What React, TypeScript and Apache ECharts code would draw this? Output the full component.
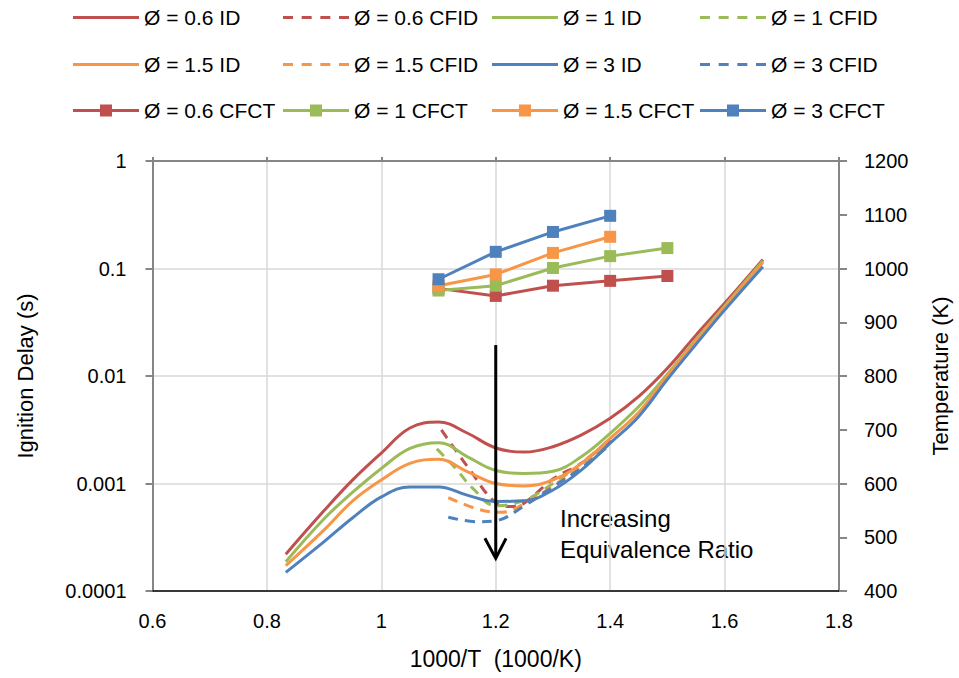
import React, { useEffect, useRef } from "react";
import * as echarts from "echarts";

const FONT = "'Liberation Sans', Arial, sans-serif";

const RED = "#C0504D";
const GREEN = "#9BBB59";
const ORANGE = "#F79646";
const BLUE = "#4F81BD";

// x = 1000/T
const idX = [0.833, 0.9, 0.95, 1.0, 1.05, 1.1, 1.15, 1.2, 1.25, 1.3, 1.35, 1.4, 1.45, 1.5, 1.55, 1.6, 1.667];
const idPhi06 = [2.2e-4, 5.6e-4, 1.08e-3, 1.92e-3, 3.28e-3, 3.73e-3, 2.95e-3, 2.14e-3, 1.96e-3, 2.2e-3, 2.83e-3, 4.04e-3, 6.45e-3, 1.18e-2, 2.4e-2, 4.74e-2, 0.121];
const idPhi1 = [1.87e-4, 4.7e-4, 8.3e-4, 1.38e-3, 2.12e-3, 2.4e-3, 1.78e-3, 1.32e-3, 1.24e-3, 1.3e-3, 1.78e-3, 2.93e-3, 5.2e-3, 1.04e-2, 2.19e-2, 4.48e-2, 0.118];
const idPhi15 = [1.72e-4, 3.7e-4, 6.9e-4, 1.08e-3, 1.54e-3, 1.68e-3, 1.29e-3, 1.0e-3, 9.5e-4, 1.08e-3, 1.54e-3, 2.63e-3, 4.6e-3, 1.0e-2, 2.12e-2, 4.35e-2, 0.114];
const idPhi3 = [1.49e-4, 2.88e-4, 4.8e-4, 7.5e-4, 9.3e-4, 9.3e-4, 7.8e-4, 6.8e-4, 6.9e-4, 8.7e-4, 1.34e-3, 2.37e-3, 4.2e-3, 9.3e-3, 1.97e-2, 4.1e-2, 0.104];

const cfidPhi06X = [1.105, 1.15, 1.2, 1.225, 1.25, 1.3, 1.35, 1.4];
const cfidPhi06 = [3.15e-3, 1.45e-3, 6.6e-4, 6.1e-4, 6.6e-4, 1.1e-3, 1.55e-3, 2.55e-3];
const cfidPhi1X = [1.097, 1.13, 1.16, 1.2, 1.25, 1.3, 1.35, 1.4];
const cfidPhi1 = [2.1e-3, 1.38e-3, 9.0e-4, 6.2e-4, 7.0e-4, 1.0e-3, 1.55e-3, 2.6e-3];
const cfidPhi15X = [1.117, 1.17, 1.21, 1.25, 1.3, 1.35, 1.4];
const cfidPhi15 = [7.4e-4, 5.75e-4, 5.4e-4, 6.5e-4, 9.5e-4, 1.45e-3, 2.5e-3];
const cfidPhi3X = [1.117, 1.17, 1.2, 1.25, 1.3, 1.35, 1.4];
const cfidPhi3 = [4.85e-4, 4.4e-4, 4.5e-4, 6.2e-4, 9.3e-4, 1.4e-3, 2.3e-3];

// cool flame temperature (K), right axis
const cfctX = [1.1, 1.2, 1.3, 1.4, 1.5];
const cfctPhi06 = [963, 949, 968, 977, 986];
const cfctPhi1 = [959, 968, 1001, 1023, 1038];
const cfctPhi15 = [968, 989, 1029, 1059];
const cfctPhi3 = [980, 1031, 1068, 1098];

const leftTickLabels = ["0.0001", "0.001", "0.01", "0.1", "1"];

const arrowShaft = [[1.2, 0.0194], [1.2, 2.03e-4]];
const arrowHead = [[1.181, 3.09e-4], [1.2, 2.01e-4], [1.218, 3.09e-4]];

const legendNames = [
  ["Ø = 0.6 ID", "Ø = 0.6 CFID", "Ø = 1 ID", "Ø = 1 CFID"],
  ["Ø = 1.5 ID", "Ø = 1.5 CFID", "Ø = 3 ID", "Ø = 3 CFID"],
  ["Ø = 0.6 CFCT", "Ø = 1 CFCT", "Ø = 1.5 CFCT", "Ø = 3 CFCT"],
];

const SOLID_ICON = "path://M0,0H66V3H0Z";
const DASH_ICON = "path://M0,0H10V3H0Z M18.67,0H28.67V3H18.67Z M37.33,0H47.33V3H37.33Z M56,0H66V3H56Z";
const MARKER_ICON = "path://M0,4.5H27V0H39V4.5H66V7.5H39V12H27V7.5H0Z";

const zip = (xs: number[], ys: number[]) => ys.map((y, i) => [xs[i], y]);

export default function App() {
  const ref = useRef<HTMLDivElement>(null);
  useEffect(() => {
    if (!ref.current) return;
    const chart = echarts.init(ref.current, undefined, { renderer: "svg" });

    const idLine = (name: string, color: string, xs: number[], ys: number[]) => ({
      name,
      type: "line",
      data: zip(xs, ys),
      smooth: 0.4,
      symbol: "none",
      lineStyle: { width: 3, color },
      itemStyle: { color },
      xAxisIndex: 0,
      yAxisIndex: 0,
    });
    const cfidLine = (name: string, color: string, xs: number[], ys: number[]) => ({
      name,
      type: "line",
      data: zip(xs, ys),
      smooth: 0.4,
      symbol: "none",
      lineStyle: { width: 3, color, type: [10, 7] },
      itemStyle: { color },
      xAxisIndex: 0,
      yAxisIndex: 0,
    });
    const cfctLine = (name: string, color: string, ys: number[]) => ({
      name,
      type: "line",
      data: zip(cfctX, ys),
      symbol: "rect",
      symbolSize: 12,
      showAllSymbol: true,
      lineStyle: { width: 3, color },
      itemStyle: { color },
      xAxisIndex: 0,
      yAxisIndex: 1,
      z: 5,
    });

    const colLefts = [73, 283, 492, 700];
    const rowCenters = [19, 66, 112];
    const legends: any[] = [];
    legendNames.forEach((row, r) =>
      row.forEach((name, c) => {
        const icon = r === 2 ? MARKER_ICON : c % 2 === 0 ? SOLID_ICON : DASH_ICON;
        legends.push({
          data: [{ name, icon }],
          left: colLefts[c],
          top: rowCenters[r] - 12,
          padding: 0,
          itemWidth: 66,
          itemHeight: r === 2 ? 12 : 3,
          itemGap: 0,
          itemStyle: { borderWidth: 0 },
          lineStyle: { width: 0 },
          textStyle: { fontSize: 21, color: "#000", fontFamily: FONT },
          selectedMode: false,
        });
      })
    );

    chart.setOption({
      animation: false,
      textStyle: { fontFamily: FONT },
      legend: legends,
      grid: { left: 152.5, right: 116.5, top: 161, bottom: 87 },
      xAxis: [
        {
          type: "value",
          min: 0.6,
          max: 1.8,
          interval: 0.2,
          position: "bottom",
          axisLine: { onZero: false, lineStyle: { color: "#000", width: 1.5 } },
          axisTick: { show: false },
          axisLabel: { fontSize: 20, color: "#000", margin: 20, fontFamily: FONT },
          splitLine: { show: true, lineStyle: { color: "#d9d9d9", width: 1.5 } },
          name: "1000/T  (1000/K)",
          nameLocation: "middle",
          nameGap: 56,
          nameTextStyle: { fontSize: 23, color: "#000", fontFamily: FONT },
        },
        {
          type: "value",
          min: 0.6,
          max: 1.8,
          interval: 0.2,
          position: "top",
          axisLine: { onZero: false, lineStyle: { color: "#868686", width: 2 } },
          axisTick: { show: true, length: 4, lineStyle: { color: "#868686", width: 2 } },
          axisLabel: { show: false },
          splitLine: { show: false },
        },
      ],
      yAxis: [
        {
          type: "log",
          logBase: 10,
          min: 0.0001,
          max: 1,
          position: "left",
          axisLine: { show: true, lineStyle: { color: "#868686", width: 2 } },
          axisTick: { show: true, length: 7, lineStyle: { color: "#868686", width: 2 } },
          axisLabel: {
            fontSize: 20,
            color: "#000",
            margin: 26,
            fontFamily: FONT,
            formatter: (v: number) => leftTickLabels[Math.round(Math.log10(v)) + 4] ?? "",
          },
          splitLine: { show: true, lineStyle: { color: "#d9d9d9", width: 1.5 } },
          minorTick: { show: false },
          name: "Ignition Delay (s)",
          nameLocation: "middle",
          nameRotate: 90,
          nameGap: 116,
          nameTextStyle: { fontSize: 22, color: "#000", fontFamily: FONT },
        },
        {
          type: "value",
          min: 400,
          max: 1200,
          interval: 100,
          position: "right",
          axisLine: { show: true, lineStyle: { color: "#868686", width: 2 } },
          axisTick: { show: true, length: 8, lineStyle: { color: "#868686", width: 2 } },
          axisLabel: {
            fontSize: 20,
            color: "#000",
            margin: 25,
            fontFamily: FONT,
            formatter: (v: number) => String(Math.round(v)),
          },
          splitLine: { show: false },
          name: "Temperature (K)",
          nameLocation: "middle",
          nameRotate: 90,
          nameGap: 90,
          nameTextStyle: { fontSize: 22, color: "#000", fontFamily: FONT },
        },
      ],
      graphic: [
        {
          type: "text",
          left: 560,
          top: 503,
          style: {
            text: "Increasing\nEquivalence Ratio",
            fontSize: 24,
            lineHeight: 31,
            fill: "#000",
            fontFamily: FONT,
          },
        },
      ],
      series: [
        idLine("Ø = 0.6 ID", RED, idX, idPhi06),
        cfidLine("Ø = 0.6 CFID", RED, cfidPhi06X, cfidPhi06),
        idLine("Ø = 1 ID", GREEN, idX, idPhi1),
        cfidLine("Ø = 1 CFID", GREEN, cfidPhi1X, cfidPhi1),
        idLine("Ø = 1.5 ID", ORANGE, idX, idPhi15),
        cfidLine("Ø = 1.5 CFID", ORANGE, cfidPhi15X, cfidPhi15),
        idLine("Ø = 3 ID", BLUE, idX, idPhi3),
        cfidLine("Ø = 3 CFID", BLUE, cfidPhi3X, cfidPhi3),
        cfctLine("Ø = 0.6 CFCT", RED, cfctPhi06),
        cfctLine("Ø = 1 CFCT", GREEN, cfctPhi1),
        cfctLine("Ø = 1.5 CFCT", ORANGE, cfctPhi15),
        cfctLine("Ø = 3 CFCT", BLUE, cfctPhi3),
        {
          name: "arrowShaft",
          type: "line",
          data: arrowShaft,
          symbol: "none",
          lineStyle: { width: 3, color: "#000" },
          z: 6,
          silent: true,
        },
        {
          name: "arrowHead",
          type: "line",
          data: arrowHead,
          symbol: "none",
          lineStyle: { width: 3, color: "#000", join: "miter" },
          z: 6,
          silent: true,
        },
      ],
    });
    return () => chart.dispose();
  }, []);
  return (
    <div
      ref={ref}
      style={{ position: "fixed", left: 0, top: 0, width: 959, height: 678, background: "#fff" }}
    />
  );
}
